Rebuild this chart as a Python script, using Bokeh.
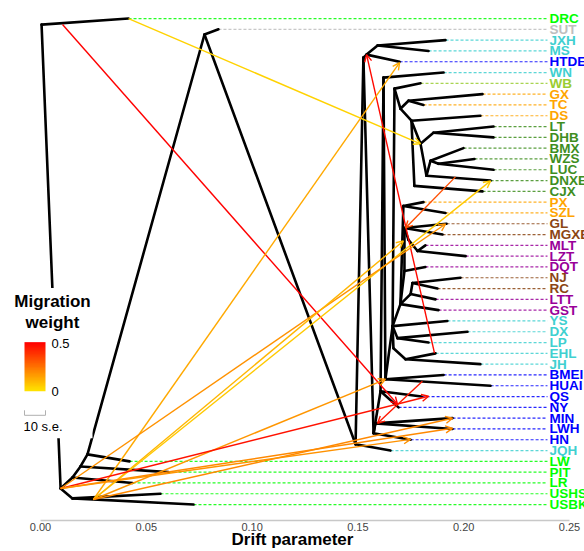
import numpy as np
from bokeh.plotting import figure
from bokeh.models import Range1d, FixedTicker, NumeralTickFormatter, Arrow, OpenHead, Label, LinearColorMapper
from bokeh.embed import file_html
from bokeh.resources import INLINE
from bokeh.core.properties import value

# ---------------- data ----------------
leaf_names = ["DRC", "SUT", "JXH", "MS", "HTDE", "WN", "WB", "GX", "TC", "DS", "LT", "DHB",
              "BMX", "WZS", "LUC", "DNXE", "CJX", "PX", "SZL", "GL", "MGXB", "MLT", "LZT",
              "DQT", "NJ", "RC", "LTT", "GST", "YS", "DX", "LP", "EHL", "JH", "BMEI", "HUAI",
              "QS", "NY", "MIN", "LWH", "HN", "JQH", "LW", "PIT", "LR", "USHS", "USBK"]
GRN, GRY, TUR, BLU, YGN, ORG, DGN, BRN, PUR = ("#00FF00", "#BEBEBE", "#40D0D0", "#0000FF",
                                                "#9ACD32", "#FFA500", "#3E8E1E", "#8B4513", "#990099")
leaf_colors = [GRN, GRY, TUR, TUR, BLU, TUR, YGN, ORG, ORG, ORG, DGN, DGN,
               DGN, DGN, DGN, DGN, DGN, ORG, ORG, BRN, BRN, PUR, PUR,
               PUR, BRN, BRN, PUR, PUR, TUR, TUR, TUR, TUR, TUR, BLU, BLU,
               BLU, BLU, BLU, BLU, BLU, TUR, GRN, GRN, GRN, GRN, GRN]
leaf_drift = [0.0416, 0.0841, 0.1914, 0.1834, 0.1697, 0.1905, 0.1796, 0.2089, 0.1810, 0.2079,
              0.2141, 0.2141, 0.1999, 0.2051, 0.2141, 0.2127, 0.2089, 0.1810, 0.1914, 0.1919,
              0.1900, 0.1819, 0.2009, 0.1819, 0.1985, 0.1876, 0.1867, 0.1881, 0.1923, 0.2018,
              0.1834, 0.1867, 0.2079, 0.1905, 0.2127, 0.1801, 0.1692, 0.1947, 0.1947, 0.1749,
              0.1654, 0.0421, 0.0605, 0.0435, 0.0567, 0.0723]
leaf_parent = ["R0", "E", "JM", "JM", "T2", "WNn", "G", "GXTC", "GXTC", "H",
               "J", "J", "L2", "Mm", "Mm", "Kk", "CJXn", "PXS", "PXS", "O",
               "O", "MLZ", "MLZ", "Q", "R", "R", "S", "Tn", "U", "V",
               "V", "Wn", "Wn", "B", "B", "Y3", "Y3", "Y2", "Y2", "Y",
               "F", "nLW", "nPIT", "nLR", "nUS", "nUS"]

node_names = ["R0", "A", "nLR", "nPIT", "nLW", "nUS", "E", "F", "T1", "T2", "JM", "Y", "Y2", "Y3",
              "WNn", "B", "U", "V", "W0", "Wn", "Tn", "G", "K", "GXTC", "H", "I", "J", "Kk",
              "L2", "Mm", "CJXn", "PXS", "Q", "O", "Pn", "MLZ", "S", "R"]
node_drift = [0.0005, 0.0095, 0.0151, 0.0189, 0.0222, 0.0151, 0.0775, 0.1489, 0.1526, 0.1541,
              0.1593, 0.1574, 0.1583, 0.1607, 0.1621, 0.1630, 0.1664, 0.1687, 0.1668, 0.1725,
              0.1701, 0.1673, 0.1701, 0.1739, 0.1753, 0.1796, 0.1857, 0.1824, 0.1843, 0.1881,
              0.1767, 0.1715, 0.1720, 0.1720, 0.1739, 0.1782, 0.1749, 0.1758]
node_row = [0.56, 43.51, 42.49, 41.47, 40.35, 44.43, 1.48, 39.42, 3.62, 3.34,
            2.50, 38.40, 37.48, 34.51, 5.47, 33.40, 28.48, 29.59, 30.52, 31.54,
            26.44, 6.49, 8.35, 7.61, 9.46, 11.60, 10.58, 14.56, 13.17, 13.45,
            15.49, 17.35, 23.38, 19.39, 20.50, 21.52, 25.51, 24.49]
node_parent = [None, "R0", "A", "nLR", "nPIT", "A", "nLW", "E", "F", "T1",
               "T2", "T1", "Y", "Y", "Y3", "WNn", "B", "U", "U", "W0",
               "U", "U", "G", "K", "K", "H", "I", "I", "Kk", "L2",
               "H", "Tn", "Tn", "Q", "O", "Pn", "Tn", "S"]

# migration edges: source (drift,row) -> target (drift,row), weight
mig_from_x = [0.0104, 0.0416, 0.1862, 0.0250, 0.1961, 0.0250, 0.0095, 0.0250, 0.0250, 0.0095,
              0.1805, 0.0250, 0.0095, 0.0095]
mig_from_y = [0.56, 0.00, 30.98, 44.53, 14.66, 44.53, 43.51, 44.53, 44.53, 43.51,
              33.58, 44.53, 43.51, 43.51]
mig_to_x = [0.1687, 0.1796, 0.1541, 0.1697, 0.1725, 0.2127, 0.1914, 0.1715, 0.1630, 0.1834,
            0.1593, 0.1947, 0.1947, 0.1749]
mig_to_y = [35.71, 11.60, 3.34, 4.08, 19.39, 15.03, 19.02, 20.59, 33.40, 34.97,
            37.48, 37.01, 37.94, 38.96]
mig_weight = [0.50, 0.04, 0.48, 0.13, 0.33, 0.06, 0.18, 0.10, 0.17, 0.46,
              0.45, 0.20, 0.20, 0.18]

x_ticks = [0.0, 0.05, 0.10, 0.15, 0.20, 0.25]
weight_scale = [0.0, 0.5]
label_x = 0.2405
dash_end = 0.2396

# ---------------- layout helpers ----------------
W, H = 584, 551
PX0, PXU = 40.0, 2116.0          # canvas px of drift 0, px per drift unit
PY0, PYU = 18.0, 10.78           # canvas px of row 0, px per row
FRAME_BOTTOM = 519.0


def dx(px):
    return (px - PX0) / PXU


def ry(py):
    return (py - PY0) / PYU


def heat(w):
    t = min(max(w / 0.5, 0.0), 1.0)
    g = int(round(228 * (1.0 - t)))
    return "#FF%02X00" % g


p = figure(width=W, height=H, output_backend="svg", toolbar_location=None,
           x_range=Range1d(dx(0), dx(W)), y_range=Range1d(ry(FRAME_BOTTOM), ry(0)),
           y_axis_location=None, min_border_left=0, min_border_right=0,
           min_border_top=0, min_border_bottom=0)
p.xgrid.visible = False
p.ygrid.visible = False
p.outline_line_color = None
p.background_fill_color = "white"

ax = p.xaxis[0]
ax.ticker = FixedTicker(ticks=x_ticks)
ax.formatter = NumeralTickFormatter(format="0.00")
ax.bounds = (0, 0.25)
ax.axis_line_color = "#C8C8C8"
ax.axis_line_width = 1.5
ax.major_tick_line_color = None
ax.minor_tick_line_color = None
ax.major_tick_out = 0
ax.major_tick_in = 0
ax.minor_tick_out = 0
ax.major_label_text_font = "Liberation Sans"
ax.major_label_text_font_size = "11px"
ax.major_label_text_color = "#444444"
ax.major_label_standoff = 2
ax.axis_label = "Drift parameter"
ax.axis_label_text_font = "Liberation Sans"
ax.axis_label_text_font_style = "bold"
ax.axis_label_text_font_size = "17px"
ax.axis_label_text_color = "black"
ax.axis_label_standoff = -4

# ---------------- dashed leaf lines ----------------
rows = list(range(len(leaf_names)))
p.segment(x0=leaf_drift, y0=rows, x1=[dash_end] * len(rows), y1=rows,
          line_color=leaf_colors, line_width=1.2, line_dash="3 2", line_alpha=0.85)

# ---------------- tree edges ----------------
idx = {n: i for i, n in enumerate(node_names)}
ex0, ey0, ex1, ey1 = [], [], [], []
for i, par in enumerate(node_parent):
    if par is None:
        continue
    j = idx[par]
    ex0.append(node_drift[j]); ey0.append(node_row[j])
    ex1.append(node_drift[i]); ey1.append(node_row[i])
for i, par in enumerate(leaf_parent):
    j = idx[par]
    ex0.append(node_drift[j]); ey0.append(node_row[j])
    ex1.append(leaf_drift[i]); ey1.append(i)
p.segment(x0=ex0, y0=ey0, x1=ex1, y1=ey1, line_color="black", line_width=2.6,
          line_cap="round", line_join="round")

# ---------------- legend box ----------------
p.quad(left=dx(0), right=dx(92), top=ry(287), bottom=ry(437), fill_color="white", line_color=None)

nsteps = 64
grad = np.linspace(weight_scale[0], weight_scale[1], nsteps).reshape(nsteps, 1)
palette = [heat(w) for w in np.linspace(weight_scale[0], weight_scale[1], 128)]
mapper = LinearColorMapper(palette=palette, low=weight_scale[0], high=weight_scale[1])
gb, gt = 390.0, 341.0
p.image(image=[grad[::-1]], x=dx(24), y=ry(gt), dw=dx(45) - dx(24), dh=ry(gb) - ry(gt),
        color_mapper=mapper)

# scale bar
p.segment(x0=[dx(24), dx(24), dx(45)], y0=[ry(414), ry(409), ry(409)],
          x1=[dx(45), dx(24), dx(45)], y1=[ry(414), ry(414), ry(414)],
          line_color="#B0B0B0", line_width=1)

for txt, x, y, size, style, align in [("Migration", 52, 300, "17px", "bold", "center"),
                                      ("weight", 52, 321, "17px", "bold", "center"),
                                      ("0.5", 51, 342, "13px", "normal", "left"),
                                      ("0", 51, 390, "13px", "normal", "left"),
                                      ("10 s.e.", 23, 425, "13px", "normal", "left")]:
    p.add_layout(Label(x=dx(x), y=ry(y), text=txt, text_font="Liberation Sans",
                       text_font_size=size, text_font_style=style, text_align=align,
                       text_baseline="middle", text_color="black"))

# ---------------- migration arrows ----------------
for x0, y0, x1, y1, w in zip(mig_from_x, mig_from_y, mig_to_x, mig_to_y, mig_weight):
    c = heat(w)
    p.add_layout(Arrow(x_start=x0, y_start=y0, x_end=x1, y_end=y1, line_color=c,
                       line_width=1.4, end=OpenHead(size=7, line_color=c, line_width=1.4)))

# ---------------- leaf labels ----------------
p.text(x=[label_x] * len(rows), y=rows, text=leaf_names, text_color=leaf_colors,
       text_font=value("Liberation Sans"), text_font_style="bold", text_font_size="13.5px",
       text_baseline="middle", text_align="left")

open("out.html", "w").write(file_html(p, INLINE))
